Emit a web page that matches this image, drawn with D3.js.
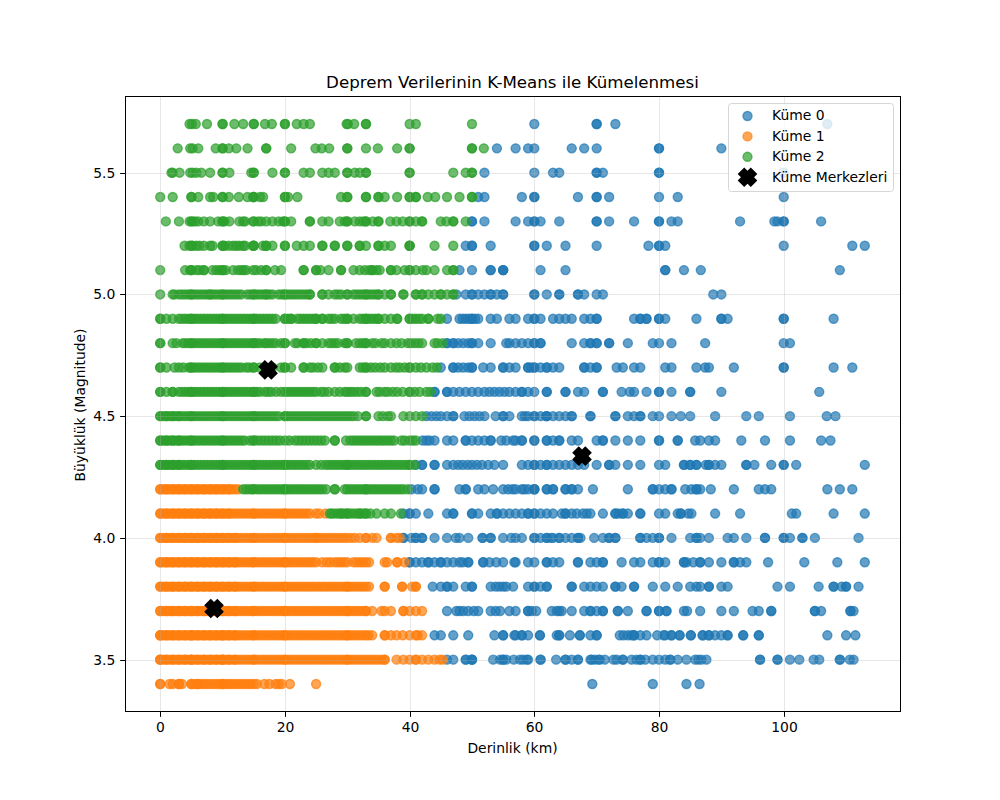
<!DOCTYPE html>
<html>
<head>
<meta charset="utf-8">
<script src="https://cdn.jsdelivr.net/npm/d3@7"></script>
<style>
body { margin: 0; background: #fff; }
text { font-family: "DejaVu Sans", sans-serif; fill: #000; }
</style>
</head>
<body>
<svg id="chart" width="1000" height="800"></svg>
<script>
// magnitude rows, the depth lists below line up with this one
const magnitudes = [5.7, 5.6, 5.5, 5.4, 5.3, 5.2, 5.1, 5.0, 4.9, 4.8, 4.7, 4.6, 4.5, 4.4, 4.3, 4.2, 4.1, 4.0, 3.9, 3.8, 3.7, 3.6, 3.5, 3.4];

const cluster0 = [
    [60, 70, 70, 73, 107],
    [54, 57, 59, 60, 66, 68, 70, 80, 80, 90],
    [52, 60, 63, 64, 70, 70, 71, 80, 80, 100],
    [51, 52, 58, 60, 60, 67, 70, 70, 72, 80, 83, 100],
    [50, 50, 52, 57, 59, 60, 60, 61, 64, 70, 70, 72, 76, 80, 80, 82, 83, 93, 98.5, 99, 100, 100, 106],
    [49, 50, 50, 53, 60, 60, 62, 65, 70, 78.3, 80, 80, 81, 100, 111, 113],
    [48, 50, 53, 53, 55, 55, 55, 61, 65, 81, 81, 84, 86.7, 109],
    [47.5, 49, 50, 50, 51, 52, 53, 53, 54, 55, 55, 60, 60, 62, 64, 64, 67, 67, 68, 70, 71, 88.7, 90],
    [46, 48, 48.5, 49, 49.5, 50, 50, 50.5, 51, 53, 54, 56, 57, 59, 60, 60, 61, 63, 64, 65, 66, 68, 69, 70, 70, 76, 77, 77, 78, 78, 80, 80, 81, 86, 90, 90, 91, 100, 100, 108],
    [46, 46, 47, 47, 47.8, 48.6, 49.4, 50, 50, 51, 53, 55.5, 56, 57, 58, 59, 60, 60, 61, 61, 66, 68, 69, 69, 70, 70, 72, 72, 75, 79, 80, 82, 87.4, 100, 101],
    [45, 47, 47, 47.8, 48.6, 49.4, 50, 50, 51.8, 53, 55, 55, 56, 57, 59, 59, 59.5, 60, 60, 61, 62, 62, 63, 64, 68, 68, 69, 70, 70, 73.2, 74.2, 76, 77, 81, 82, 86, 87.4, 88, 92, 100, 100, 108, 111],
    [44, 44, 46, 46, 47, 48, 49, 50, 51, 52, 52.8, 53.6, 54.4, 55.2, 56, 57, 58, 58, 59, 60, 62, 62, 65, 65, 67, 68, 71, 71, 74, 75.3, 76, 78, 80, 80, 82, 85, 85, 90, 105.7],
    [42.7, 43.5, 44.3, 45, 46, 47, 47, 48.8, 49.6, 50.4, 51.2, 52, 53.8, 55, 55, 56, 58, 58.5, 59, 60, 60, 61, 61.9, 62, 62, 63, 64, 65, 66, 66, 69, 69, 73, 73, 75, 76, 77, 77, 79, 80, 82, 83.5, 85, 89, 94, 96, 101, 106.9, 108.3],
    [42.1, 42.7, 43.2, 44, 46, 47, 49, 49, 50, 51, 52, 53, 53, 54.7, 55.5, 56.6, 57, 58, 58, 60, 60, 62, 62, 63, 64, 64, 66, 67, 70, 71, 71, 73, 75, 77, 80, 80, 83, 83, 85.8, 86.6, 88, 89, 93.2, 97, 101, 106, 107.5],
    [41, 42, 42, 44, 44, 46, 47, 47.8, 48.5, 49.3, 50, 50.8, 51.6, 52.6, 53.6, 55, 58, 59, 60, 60, 61, 62, 62, 63, 64, 65, 66, 67, 68, 70, 72, 72, 73, 75, 77, 80, 81, 84, 84, 85, 85, 86, 86, 87.5, 88, 88, 89, 90, 94, 94, 95.3, 98, 100, 100, 102, 113],
    [40.3, 41.3, 42, 44, 44, 48, 49, 49, 51, 52, 53.4, 55, 55.8, 56.5, 57, 58, 58.4, 59, 60, 60, 60, 62, 62, 63, 63, 65, 65, 66, 66, 67, 69.4, 75, 79, 79, 80, 81, 82, 82, 84.2, 85.2, 86, 86, 86.6, 88.3, 92, 96, 97, 98, 107, 109, 111],
    [39, 40, 40, 41, 43, 46, 47, 47, 50, 50, 51, 53, 54, 54, 55, 56, 57, 58, 59, 59, 60, 60, 61, 62, 63, 64.4, 65, 65, 66, 66.8, 67.8, 68.4, 69, 71, 73, 73, 73.5, 74.2, 74.2, 75, 77, 77, 80, 81, 83, 83.5, 83.5, 84.7, 85.2, 89, 93, 101.3, 102, 108, 113],
    [39, 39, 40.3, 41, 41, 42, 42, 44, 46, 47.4, 48, 49.4, 51.7, 51.7, 53, 53, 55, 56.3, 57, 58, 60, 60, 61, 62, 62, 62.7, 63, 64, 64, 65, 66, 67, 67, 67.4, 69.6, 71, 72, 72, 73, 73, 77, 77, 78, 79, 80, 80, 82, 85, 86, 86, 86.6, 88, 91, 92, 94, 97, 97, 100, 100, 101, 103, 103, 105, 112],
    [40, 40, 41, 42, 43, 43, 44, 45, 45, 46, 47, 48, 48.5, 49.4, 49.4, 51.8, 51.8, 52.8, 53.9, 55, 56.8, 57, 59, 60, 62, 62, 63, 64, 67, 67, 69, 70, 71, 71, 74, 76, 77, 79, 80, 80, 81, 84, 84, 84.4, 85.5, 86.6, 86.6, 88, 90, 92, 92, 93, 94, 97.5, 103.3, 108.6, 113],
    [43.7, 45, 46, 46, 47, 49, 50, 50, 53, 53.8, 54.4, 55, 55.5, 56.6, 59, 60, 60, 61, 62, 62, 66, 66, 68, 69, 70, 71, 73, 73, 74, 76, 76, 79, 81, 83, 85, 86, 86.6, 88, 88, 90, 91, 99, 101, 105.6, 108, 108, 109.3, 110, 110, 112],
    [46, 47.5, 48, 48.6, 49.4, 50.3, 51, 53, 53.8, 54.5, 56, 57, 59, 59, 59.6, 60.3, 62.8, 63.6, 64, 64.4, 66, 68, 69, 69, 70, 71, 71, 73.4, 73.4, 75, 78, 78, 80, 80, 81.2, 81.2, 84, 84.5, 86.6, 90, 92, 95, 96, 98, 98, 105, 105, 106, 110.7, 110.7, 111.2],
    [44, 45, 47, 49.4, 53.6, 55, 55, 56.8, 57, 58, 58, 59, 60.9, 60.9, 63.6, 64, 64, 65.7, 67.3, 67.3, 69, 70, 70, 73.7, 74.3, 75, 75.6, 76, 76, 77, 78, 79.7, 80.7, 81, 82, 82, 83.3, 83.3, 85.1, 85.1, 87, 87, 88, 88, 89, 90, 91, 91, 93.5, 93.5, 96, 96, 107, 110, 111.5],
    [46, 47, 49, 49, 50, 50, 50, 53.4, 54.5, 55, 55, 55.5, 56.7, 57.7, 58.2, 58.8, 59, 61, 61, 63.5, 65, 65, 66, 67, 67, 69, 69.2, 69.7, 70.3, 70.5, 71.3, 72.7, 73.2, 74.2, 74.2, 75.6, 76.4, 77, 77, 77.8, 79, 80, 81, 81.8, 81.8, 83, 84.4, 85.8, 86.3, 86.8, 87.6, 96.2, 96.2, 99, 99, 101, 102.5, 104.8, 105.7, 109, 109, 110.6, 111.2],
    [69.3, 79, 84.4, 86.5]
];

const cluster1 = [
    [], [], [], [], [], [], [], [], [], [], [], [], [], [], [],
    [0, 0, 0.5, 1, 1, 1.5, 2, 2, 2.5, 3, 3, 3.5, 4, 4, 4.5, 5, 5, 5.5, 6, 6, 6.5, 7, 7, 7.5, 8, 8, 8.5, 9, 9, 9.5, 10, 10, 10.5, 11, 11, 11.5, 12, 12.5],
    [0, 0, 0.5, 1, 1, 1.5, 2, 2, 2.5, 3, 3, 3.5, 4, 4, 4.5, 5, 5, 5.5, 6, 6, 6.5, 7, 7, 7.5, 8, 8, 8.5, 9, 9, 9.5, 10, 10, 10.5, 11, 11, 11.5, 12, 12.5, 13, 13.5, 14, 14.5, 15, 15, 15.5, 16, 16.5, 17, 17.5, 18, 18.5, 19, 19.5, 20, 20, 20.5, 21, 21.5, 22, 22.5, 23, 23.5, 24, 25, 25.5, 26.5],
    [0, 0, 0.5, 1, 1, 1.5, 2, 2, 2.5, 3, 3, 3.5, 4, 4, 4.5, 5, 5, 5.5, 6, 6, 6.5, 7, 7, 7.5, 8, 8, 8.5, 9, 9, 9.5, 10, 10, 10.5, 11, 11, 11.5, 12, 12, 12.5, 13, 13.5, 14, 14.5, 15, 15, 15.5, 16, 16.5, 17, 17.5, 18, 18.5, 19, 19.5, 20, 20, 20.5, 21, 21.5, 22, 22.5, 23, 23.5, 24, 24.5, 25, 25, 25.5, 26, 26.5, 27, 27.5, 28, 28.5, 29, 29.5, 30, 30.6, 31.2, 32, 33, 33, 34, 34.7, 37, 37, 37.9, 38.4],
    [0, 0, 0.5, 1, 1, 1.5, 2, 2, 2.5, 3, 3, 3.5, 4, 4, 4.5, 5, 5, 5.5, 6, 6, 6.5, 7, 7, 7.5, 8, 8, 8.5, 9, 9, 9.5, 10, 10, 10.5, 11, 11, 11.5, 12, 12, 12.5, 13, 13.5, 14, 14.5, 15, 15, 15.5, 16, 16.5, 17, 17.5, 18, 18.5, 19, 19.5, 20, 20, 20.5, 21, 21.5, 22, 22.5, 23, 23.5, 24, 24.5, 25, 26, 26.7, 27.3, 28, 28.5, 29, 29.5, 30, 31, 31.5, 32, 32.5, 33, 33.5, 36, 36.4, 38, 38, 39.2],
    [0, 0, 0.5, 1, 1, 1.5, 2, 2, 2.5, 3, 3, 3.5, 4, 4, 4.5, 5, 5, 5.5, 6, 6, 6.5, 7, 7, 7.5, 8, 8, 8.5, 9, 9, 9.5, 10, 10, 10.5, 11, 11, 11.5, 12, 12, 12.5, 13, 13.5, 14, 14.5, 15, 15, 15.5, 16, 16.5, 17, 17.5, 18, 18.5, 19, 19.5, 20, 20, 20.5, 21, 21.5, 22, 22.5, 23, 23.5, 24, 24.5, 25, 25.5, 26, 26.5, 27, 27.5, 28, 28.5, 29, 29.5, 30, 30, 30.5, 31, 31.5, 32, 32.5, 33, 33.5, 36, 36, 38.8, 38.8, 40.4, 41, 41],
    [0, 0, 0.5, 1, 1, 1.5, 2, 2, 2.5, 3, 3, 3.5, 4, 4, 4.5, 5, 5, 5.5, 6, 6, 6.5, 7, 7, 7.5, 8, 8, 8.5, 9, 9, 9.5, 10, 10, 10.5, 11, 11, 11.5, 12, 12, 12.5, 13, 13.5, 14, 14.5, 15, 15, 15.5, 16, 16.5, 17, 17.5, 18, 18.5, 19, 19.5, 20, 20, 20.5, 21, 21.5, 22, 22.5, 23, 23.5, 24, 24.5, 25, 25.5, 26, 26.5, 27, 27.5, 28, 28.5, 29, 29.5, 30, 30, 30.5, 31, 31.5, 32, 32.5, 33, 33, 34, 35.5, 36, 37, 39, 39, 40, 41, 42],
    [0, 0, 0, 0.5, 1, 1, 1.5, 2, 2, 2.5, 3, 3, 3.5, 4, 4, 4.5, 5, 5, 5, 5.5, 6, 6, 6.5, 7, 7, 7.5, 8, 8, 8.5, 9, 9, 9.5, 10, 10, 10, 10.5, 11, 11, 11.5, 12, 12, 12.5, 13, 13.5, 14, 14.5, 15, 15, 15.5, 16, 16.5, 17, 17.5, 18, 18.5, 19, 19.5, 20, 20, 20.5, 21, 21.5, 22, 22.5, 23, 23.5, 24, 24.5, 25, 25.5, 26, 26.5, 27, 27.5, 28, 28.5, 29, 29.5, 30, 30, 30.5, 31, 31.5, 32, 32.5, 33, 33.4, 34, 36, 36, 37, 37.9, 38.9, 40, 41, 41.3, 42],
    [0, 0, 0, 0.5, 1, 1, 1.5, 2, 2, 2.5, 3, 3, 3.5, 4, 4, 4.5, 5, 5, 5, 5.5, 6, 6, 6.5, 7, 7, 7.5, 8, 8, 8.5, 9, 9, 9.5, 10, 10, 10, 10.5, 11, 11, 11.5, 12, 12, 12.5, 13, 13.5, 14, 14.5, 15, 15, 15.5, 16, 16.5, 17, 17.5, 18, 18.5, 19, 19.5, 20, 20, 20.5, 21, 21.5, 22, 22.5, 23, 23.5, 24, 24.5, 25, 25.5, 26, 26.5, 27, 27.5, 28, 28.5, 29, 29.5, 30, 30, 30.5, 31, 31.5, 32, 32.5, 33, 33.5, 34, 34.5, 35, 35.5, 36, 36, 37.9, 39, 40, 41, 41, 42, 43, 44, 44.8, 45.3],
    [0, 0, 1.5, 2, 3, 3, 3.5, 5, 5, 5.5, 6, 6, 6.5, 7, 7.5, 8, 8.5, 9, 9.5, 10, 10, 10.5, 11, 11.5, 12, 12.5, 13, 13.5, 14, 14.5, 15, 15.5, 16.7, 17.5, 18.5, 19, 19.5, 20.8, 25]
];

const cluster2 = [
    [4.7, 5.1, 5.7, 7.5, 10, 10, 11.9, 13.3, 15, 15, 16.8, 17.9, 20, 20, 21.9, 23, 24, 29.9, 30.1, 31.1, 33, 33, 40, 41, 50],
    [2.8, 4.8, 5.2, 6.1, 8.9, 10, 10, 11, 12.2, 14, 17, 17, 21, 24.9, 25.9, 27.1, 30, 30, 33, 34.9, 38, 40, 40, 50, 50, 51.9],
    [1.8, 2, 3.1, 4.8, 5.2, 5.8, 6.6, 8, 10, 10, 11.1, 14.6, 15, 15, 18, 20, 20, 23, 24, 26, 27, 28, 30, 30, 31.2, 32, 33, 33, 40, 40, 47, 49, 50, 50],
    [0, 2, 5, 5, 6.1, 8, 8.5, 10, 10, 11, 12.6, 14, 14.9, 15, 15, 16, 16.5, 20, 20, 20.5, 22, 29, 30, 30, 33, 33, 35, 35, 36, 38, 40, 40, 41, 41, 42.9, 44.1, 46, 48, 50, 50],
    [0.9, 3, 4.7, 5, 5.2, 5.6, 6.1, 7, 8, 9.3, 10, 10, 10.3, 11.1, 12.7, 13.3, 13.6, 14.9, 15, 15.7, 16.2, 17, 18, 19, 19.7, 20, 20, 21, 24, 24, 26, 27, 28.8, 29.6, 30, 30, 31.2, 32, 32.6, 33, 33, 34.1, 35, 35, 36.9, 37.9, 38.9, 40, 40, 41, 42, 42, 45, 45.9, 47, 47, 49],
    [3.9, 4.7, 5, 5.2, 5.8, 6.3, 7, 8, 8.4, 10, 10, 10.3, 11, 11.7, 12.2, 12.7, 13.3, 13.6, 14.9, 15, 15, 16.5, 17, 17, 18, 20, 20, 21.9, 23, 24, 26, 26, 28, 28, 30, 30, 32, 32, 33, 35, 35, 36, 37, 40, 40, 40, 44, 47],
    [0, 4, 4.8, 5, 5, 5.8, 6.3, 7, 7, 8.4, 9, 9.5, 10, 10, 10.5, 11.7, 12.5, 13, 13.4, 13.8, 14.9, 15.4, 16.2, 17, 17, 18.4, 19.4, 23, 23, 25, 25, 25.7, 27, 29, 29, 31, 32, 32.8, 33.5, 34, 34, 34.7, 35.2, 37, 37, 37.9, 39.2, 40, 40, 41, 42.1, 42.7, 44, 46, 47, 47],
    [0, 2, 2.3, 3, 3.5, 4, 4.5, 5, 5, 5.5, 6, 6.5, 7, 7.5, 8, 8, 8.5, 9, 9.5, 10, 10, 10.5, 11, 11.5, 12, 12.5, 13, 14, 14.5, 15, 15, 15.5, 16, 16.5, 17, 17, 17.5, 18, 19, 19.5, 20, 20, 20.5, 21, 21.5, 22, 22.5, 23, 23.5, 24, 24, 26, 26, 27, 28, 28.5, 29, 30, 30, 31, 31.5, 32, 32.5, 33, 33, 33.5, 34, 34.5, 35, 35, 36, 37, 37, 39, 39, 41, 41, 42, 42, 43, 44, 45, 45, 46, 47, 47],
    [0, 0, 1, 2, 3, 3.5, 4, 4.5, 5, 5, 5.5, 6, 6.5, 7, 7.5, 8, 8.5, 9, 9.5, 10, 10, 10.5, 11, 11.5, 12, 12.5, 13, 13.5, 14, 14.5, 15, 15, 15.5, 16, 16.5, 17, 17.5, 18, 18.5, 20, 20, 20.5, 21, 21, 22, 22.5, 23, 23.5, 24, 24.5, 25, 25, 26, 26, 27, 27.5, 28, 29, 29.5, 30, 30, 31, 32, 32.5, 33, 33, 33.5, 34, 34.5, 35, 35, 36, 37, 38, 38, 40, 40, 40.5, 41, 41.5, 42, 43, 43, 44.5, 45],
    [0, 0, 2, 2.6, 3.6, 4, 4.5, 5, 5, 5.5, 6, 6.5, 7, 7.5, 8, 8.5, 9, 9.5, 10, 10, 10.5, 11, 11.5, 12, 12.5, 13, 13.5, 14, 14.5, 15, 15, 15.5, 16, 16.7, 17, 17.5, 18, 18.5, 19.4, 20, 20, 21.6, 22, 23, 23, 23.5, 24.2, 25, 25, 26, 27, 27.5, 28, 28.5, 29.6, 30, 30, 31.4, 32, 32.5, 33, 33, 34, 34.5, 35.5, 36, 37, 37.9, 38.7, 39.7, 40.2, 40.8, 41.4, 42, 44, 44.5, 45.3],
    [0, 0, 1, 2.3, 3, 3.7, 4.6, 5, 5, 5.5, 6, 6.5, 7, 7.5, 8, 8.5, 9, 9.5, 10, 10, 10.5, 11, 11.5, 12, 12.5, 13, 13.8, 14.3, 15, 15, 16, 17, 18, 19.4, 20, 20, 21, 23, 23, 24, 24.5, 25.3, 26, 28, 28, 28.8, 29.6, 30, 32, 32.5, 33, 33, 33.8, 34.5, 35.3, 36, 37, 37.8, 38.4, 39.2, 40, 40, 41, 41.8, 42.7, 43.7, 44.4],
    [0, 0, 1, 2, 2, 3, 3.5, 4, 4.5, 5, 5, 5.5, 6, 6.5, 7, 7.5, 8, 8.5, 9, 9.5, 10, 10, 10.5, 11, 11.5, 12, 12.5, 13, 13.5, 14, 14.5, 15, 15, 15.5, 16, 16.8, 17.3, 17.8, 18.6, 19.4, 20, 20.5, 21, 21.5, 22, 22.5, 23, 23.5, 24, 24.5, 25, 25.8, 26.3, 27, 28, 28.8, 29.6, 30, 30.5, 31, 31.6, 32.2, 33, 33, 34.7, 35.2, 36, 36.5, 37.3, 38, 38.9, 40, 40, 40.8, 41.6, 42.7, 43.3],
    [0, 0, 0.5, 1, 1, 1.5, 2, 2, 2.5, 3, 3, 3.5, 4, 4.5, 5, 5, 5.5, 6, 6.5, 7, 7.5, 8, 8.5, 9, 9.5, 10, 10, 10.5, 11, 11.5, 12, 12.5, 13, 13.5, 14, 14.5, 15, 15, 15.5, 16, 16.5, 17, 17.5, 18, 18.5, 19, 20, 20, 20.5, 21, 21.5, 22, 22.5, 23, 23.5, 24, 24.5, 25, 25.5, 26, 26.5, 27, 27.5, 28, 28.5, 29, 29.5, 30, 30.5, 31, 31.7, 33, 33, 35, 35.7, 36.5, 37, 39, 40, 41, 42],
    [0, 0, 0.5, 1, 1, 1.5, 2, 2, 2.5, 3, 3, 3.5, 4, 4.5, 5, 5, 5.5, 6, 6.5, 7, 7.5, 8, 8.5, 9, 9.5, 10, 10, 10.5, 11, 11.5, 12, 12.5, 13, 13.5, 14.4, 15, 15, 15.6, 16.2, 16.8, 17.4, 18, 18.6, 19.2, 20, 20.7, 21.6, 22.2, 22.8, 23.4, 24, 24.6, 25.2, 25.8, 26.4, 28, 28, 29.8, 30.5, 31, 31.5, 32, 32.5, 33, 33.5, 34, 34.5, 35, 35.5, 36, 36.5, 37, 37.5, 38.7, 39.2, 40, 40.5, 41],
    [0, 0, 0.5, 1, 1, 1.5, 2, 2, 2.5, 3, 3, 3.5, 4, 4.5, 5, 5, 5.5, 6, 6.5, 7, 7.5, 8, 8.5, 9, 9.5, 10, 10, 10.5, 11, 11.5, 12, 12.5, 13, 13.5, 14, 14.5, 15, 15, 15.5, 16, 16.5, 17, 17.5, 18, 18.5, 19, 19.5, 20, 20, 20.5, 21, 21.5, 22, 22.5, 23, 23.5, 24, 25, 25.8, 26.5, 27, 27.5, 28, 28.5, 29, 29.5, 30, 30, 30.5, 31, 31.5, 32, 32.5, 33, 33.5, 34, 34.5, 35, 35.5, 36, 36.5, 37, 37.5, 38, 38.5, 39, 39.5, 40, 40, 40.8],
    [13.3, 13.8, 14.3, 14.8, 15, 15.5, 16, 16.5, 17, 17.5, 18, 18.5, 19, 19.5, 20, 20, 20.5, 21, 21.5, 22, 22.5, 23, 23.5, 24, 24.5, 25, 25.5, 26, 26.6, 28, 28, 29.6, 30, 30.5, 31, 31.5, 32, 32.5, 33, 33, 33.5, 34, 34.5, 35, 35.5, 36, 36.5, 37, 37.5, 38, 38.5, 39, 39.7],
    [27.2, 27.5, 28, 28.5, 29, 29, 29.5, 30, 30, 30.5, 31, 31.5, 32, 32, 32.5, 33, 33, 33.7, 34.7, 36, 37, 38.6],
    [], [], [], [], [], [], []
];

// centres of the three clusters: kume 0, 1, 2
const centerDepths = [67.65, 8.63, 17.3];
const centerMagnitudes = [4.336, 3.71, 4.69];

const clusterLabels = ['Küme 0', 'Küme 1', 'Küme 2'];
const clusterColors = ['#1f77b4', '#ff7f0e', '#2ca02c'];
const xTicks = [0, 20, 40, 60, 80, 100];
const yTicks = [3.5, 4.0, 4.5, 5.0, 5.5];

const margin = {top: 96, right: 100, bottom: 88, left: 125};
const containerWidth = 1000;
const containerHeight = 800;
const width = containerWidth - margin.left - margin.right;
const height = containerHeight - margin.top - margin.bottom;

const svg = d3.select('#chart');

const xScale = d3.scaleLinear().domain([-5.65, 118.65]).range([0, width]);
const yScale = d3.scaleLinear().domain([3.285, 5.815]).range([height, 0]);

// lines land on whole pixels like matplotlib's snapping
const snap = v => Math.round(v) + 0.5;

const g = svg.append('g').attr('transform', `translate(${margin.left},${margin.top})`);

function styleDot(sel, color) {
    sel.attr('r', 4.5)
        .attr('fill', color)
        .attr('fill-opacity', 0.7)
        .attr('stroke', color)
        .attr('stroke-opacity', 0.7)
        .attr('stroke-width', 1.39);
}

[cluster0, cluster1, cluster2].forEach((rows, i) => {
    const points = rows.flatMap((depths, r) => depths.map(d => ({depth: d, magnitude: magnitudes[r]})));
    g.append('g')
        .selectAll('circle')
        .data(points)
        .join('circle')
        .attr('cx', d => xScale(d.depth))
        .attr('cy', d => yScale(d.magnitude))
        .call(styleDot, clusterColors[i]);
});

// filled X marker, s=200
const xMarker = d3.symbol().type({
    draw(context, size) {
        const k = Math.sqrt(size) / 6;
        const pts = [[-1, -3], [0, -2], [1, -3], [3, -1], [2, 0], [3, 1], [1, 3], [0, 2], [-1, 3], [-3, 1], [-2, 0], [-3, -1]];
        pts.forEach((p, i) => {
            if (i === 0) context.moveTo(p[0] * k, p[1] * k);
            else context.lineTo(p[0] * k, p[1] * k);
        });
        context.closePath();
    }
}).size(385.8);

g.append('g')
    .selectAll('path')
    .data(centerDepths)
    .join('path')
    .attr('transform', (d, i) => `translate(${xScale(d)},${yScale(centerMagnitudes[i])})`)
    .attr('d', xMarker)
    .attr('fill', '#000');

// grid sits above the scatter
const gridG = g.append('g');
gridG.selectAll('.vgrid')
    .data(xTicks)
    .join('line')
    .attr('class', 'vgrid')
    .attr('x1', d => snap(xScale(d)))
    .attr('x2', d => snap(xScale(d)))
    .attr('y1', 0)
    .attr('y2', height);
gridG.selectAll('.hgrid')
    .data(yTicks)
    .join('line')
    .attr('class', 'hgrid')
    .attr('x1', 0)
    .attr('x2', width)
    .attr('y1', d => snap(yScale(d)))
    .attr('y2', d => snap(yScale(d)));
gridG.selectAll('line')
    .attr('stroke', '#b0b0b0')
    .attr('stroke-opacity', 0.3)
    .attr('stroke-width', 1);

// axes
const xAxis = d3.axisBottom(xScale).tickValues(xTicks).tickSizeInner(4.86).tickSizeOuter(0).tickPadding(4.86).offset(0);
const yAxis = d3.axisLeft(yScale).tickValues(yTicks).tickFormat(d3.format('.1f')).tickSizeInner(4.86).tickSizeOuter(0).tickPadding(4.86).offset(0);

const xAxisG = g.append('g').attr('transform', `translate(0,${height})`).call(xAxis);
const yAxisG = g.append('g').call(yAxis);

xAxisG.selectAll('.tick').attr('transform', d => `translate(${snap(xScale(d))},0)`);
yAxisG.selectAll('.tick').attr('transform', d => `translate(0,${snap(yScale(d))})`);

[xAxisG, yAxisG].forEach(a => {
    a.select('.domain').remove();
    a.selectAll('.tick line').attr('stroke', '#000').attr('stroke-width', 1);
    a.selectAll('.tick text').style('font-family', '"DejaVu Sans", sans-serif').style('font-size', '13.9px').attr('fill', '#000');
});

g.append('rect')
    .attr('x', 0.5)
    .attr('y', 0.5)
    .attr('width', width)
    .attr('height', height - 1)
    .attr('fill', 'none')
    .attr('stroke', '#000')
    .attr('stroke-width', 1);

// titles
svg.append('text')
    .attr('x', margin.left + width / 2)
    .attr('y', 88)
    .attr('text-anchor', 'middle')
    .style('font-size', '16.67px')
    .text('Deprem Verilerinin K-Means ile Kümelenmesi');

svg.append('text')
    .attr('x', margin.left + width / 2)
    .attr('y', 753)
    .attr('text-anchor', 'middle')
    .style('font-size', '13.9px')
    .text('Derinlik (km)');

svg.append('text')
    .attr('transform', `translate(85,${margin.top + height / 2 + 1}) rotate(-90)`)
    .attr('text-anchor', 'middle')
    .style('font-size', '13.9px')
    .text('Büyüklük (Magnitude)');

// legend
const legend = svg.append('g').attr('transform', 'translate(728,103)');
legend.append('rect')
    .attr('x', 0.5)
    .attr('y', 0.5)
    .attr('width', 165)
    .attr('height', 88)
    .attr('rx', 3)
    .attr('fill', '#fff')
    .attr('fill-opacity', 0.8)
    .attr('stroke', '#ccc')
    .attr('stroke-opacity', 0.8)
    .attr('stroke-width', 1);

const legendLabels = clusterLabels.concat(['Küme Merkezleri']);
const legendRows = legend.selectAll('.legend-row')
    .data(legendLabels)
    .join('g')
    .attr('class', 'legend-row')
    .attr('transform', (d, i) => `translate(0,${12.5 + i * 20.4})`);

legendRows.append('text')
    .attr('x', 44)
    .attr('y', 4.9)
    .style('font-size', '13.9px')
    .text(d => d);

legendRows.filter((d, i) => i < 3)
    .append('circle')
    .attr('cx', 19.5)
    .attr('cy', 0.5)
    .each(function(d, i) { d3.select(this).call(styleDot, clusterColors[i]); });

legendRows.filter((d, i) => i === 3)
    .append('path')
    .attr('transform', 'translate(19.5,0.5)')
    .attr('d', xMarker)
    .attr('fill', '#000');
</script>
</body>
</html>
